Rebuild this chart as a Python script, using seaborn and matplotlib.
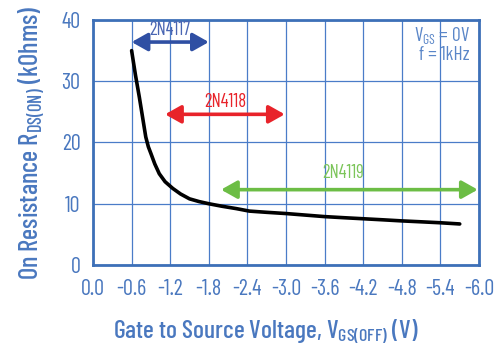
import matplotlib
matplotlib.use("Agg")
import matplotlib.pyplot as plt
import seaborn as sns
import pandas as pd

# On-resistance vs gate-source cutoff voltage
vgs_off = [-0.60, -0.66, -0.72, -0.78, -0.82, -0.86, -0.90, -0.96, -1.03, -1.12,
           -1.24, -1.36, -1.50, -1.65, -1.80, -2.00, -2.23, -2.43, -2.70, -3.00,
           -3.30, -3.60, -3.90, -4.20, -4.50, -4.80, -5.10, -5.39, -5.70]
r_on = [35.0, 31.0, 27.4, 23.5, 20.9, 19.3, 18.2, 16.5, 14.9, 13.6,
        12.5, 11.6, 10.8, 10.35, 10.0, 9.6, 9.2, 8.8, 8.6, 8.4,
        8.15, 7.9, 7.72, 7.55, 7.38, 7.2, 7.05, 6.9, 6.7]

# Device ranges: (name, start V, end V, level kOhm, label V, label kOhm)
devices = ["2N4117", "2N4118", "2N4119"]
range_start = [-0.6, -1.12, -1.99]
range_end = [-1.8, -2.98, -5.98]
range_level = [36.4, 24.6, 12.3]
label_v = [-1.2, -2.05, -3.88]
label_r = [38.3, 26.6, 15.0]
device_colors = ["#2f4fa3", "#e8232a", "#6cbd45"]
label_colors = ["#4a66b3", "#e8232a", "#7cc55a"]

x_ticks = [0.0, -0.6, -1.2, -1.8, -2.4, -3.0, -3.6, -4.2, -4.8, -5.4, -6.0]
y_ticks = [0, 10, 20, 30, 40]

blue = "#4a78bf"
grid_blue = "#4a7cc8"

sns.set_theme(style="white")
plt.rcParams["font.family"] = ["Barlow Condensed", "DejaVu Sans"]
plt.rcParams["mathtext.default"] = "regular"

fig = plt.figure(figsize=(4.99, 3.49), dpi=100)
ax = fig.add_axes([0.1864, 0.2407, 0.7736, 0.702])

df = pd.DataFrame({"V": vgs_off, "R": r_on})
sns.lineplot(data=df, x="V", y="R", ax=ax, color="black", linewidth=2.6,
             sort=False, estimator=None)

ax.set_xlim(0, -6.0)
ax.set_ylim(0, 40)
ax.set_xticks(x_ticks)
ax.set_xticklabels([f"{t:.1f}" if t != 0 else "0.0" for t in x_ticks])
ax.set_yticks(y_ticks)
ax.grid(True, color=grid_blue, linewidth=0.9)
ax.set_axisbelow(True)
for s in ax.spines.values():
    s.set_color("#3d70b8")
    s.set_linewidth(2.0)
ax.tick_params(axis="both", length=0, colors=blue, labelsize=16)
ax.tick_params(axis="y", pad=9)
ax.tick_params(axis="x", pad=10)

ax.set_xlabel(r"Gate to Source Voltage, V$_{GS(OFF)}$ (V)", color=blue,
              fontsize=18.5, fontweight="medium")
ax.xaxis.set_label_coords(0.448, -0.215)
ax.set_ylabel(r"On Resistance R$_{DS(ON)}$ (kOhms)", color=blue,
              fontsize=19, fontweight="medium", labelpad=10)

for name, x0, x1, lvl, lx, ly, c, lc in zip(devices, range_start, range_end,
                                              range_level, label_v, label_r,
                                              device_colors, label_colors):
    ax.annotate("", xy=(x1, lvl), xytext=(x0, lvl),
                arrowprops=dict(arrowstyle="<|-|>,head_length=0.8,head_width=0.45",
                                color=c, lw=2.6, shrinkA=0, shrinkB=0))
    ax.text(lx, ly, name, color=lc, fontsize=13.5, ha="center", va="center")

ax.text(-5.85, 36.0, "V$_{GS}$ = 0V\nf = 1kHz", color="#5a86c8", fontsize=14,
        ha="right", va="center", linespacing=1.0)

fig.savefig("out.png", dpi=100)
